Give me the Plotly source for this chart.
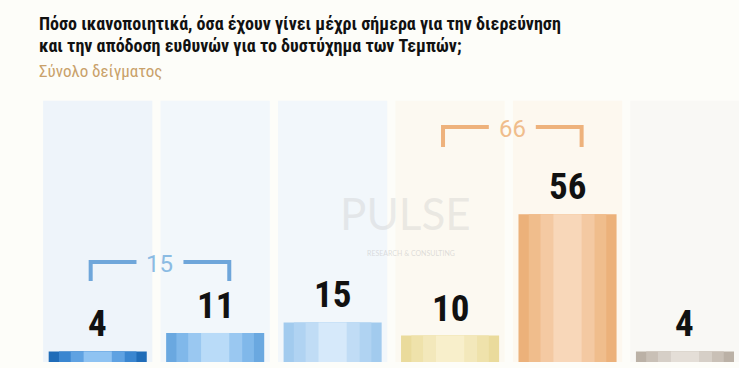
import plotly.graph_objects as go

# ---- data ----
categories = ["Πολύ ικανοποιητικά", "Αρκετά ικανοποιητικά", "Ούτε/ούτε",
              "Λίγο ικανοποιητικά", "Καθόλου ικανοποιητικά", "ΔΓ/ΔΑ"]
values = [4, 11, 15, 10, 56, 4]
# colour layers of each bar, from outer edge to inner highlight
bar_layers = [
    ["#1f6cb8", "#3a86d0", "#5fa2e2", "#8fc3f2"],
    ["#6aa8e0", "#80b8ea", "#9ac8f1", "#b9dbf8"],
    ["#a2cbee", "#b0d3f2", "#c0dcf5", "#d6e9fa"],
    ["#eadb9c", "#efe2ab", "#f3e8bb", "#f8efcb"],
    ["#ecb17a", "#f0bd8c", "#f4c9a2", "#f8d7b9"],
    ["#bbb1a6", "#c9c0b6", "#d6cfc7", "#e4ded7"],
]
layer_widths = [0.835, 0.66, 0.46, 0.24]
bg_colors = ["#eef4fa", "#f2f7fb", "#f2f7fb", "#fcf9f1", "#fdf8ef", "#f9f8f5"]
bg_level = [99] * 6
group_labels = ["15", "66"]
group_spans = [(-0.06, 1.12), (2.94, 4.12)]
group_levels = [(30.7, 37.9), (81.4, 89.0)]
group_colors = ["#6fa6da", "#eeb27c"]
group_text_colors = ["#8bbbe3", "#f0bd8c"]

title_lines = ["Πόσο ικανοποιητικά, όσα έχουν γίνει μέχρι σήμερα για την διερεύνηση",
               "και την απόδοση ευθυνών για το δυστύχημα των Τεμπών;"]
subtitle = "Σύνολο δείγματος"

W, H = 739, 368
ML, MR, MT, MB = 39, 0, 72, 6
plot_h = H - MT - MB
y_max = plot_h / 2.64
x_idx = list(range(len(categories)))

def py(pix_y):
    return (H - MB - pix_y) / plot_h

def px(pix_x):
    return (pix_x - ML) / (W - ML - MR)

narrow = "Liberation Sans Narrow, Roboto Condensed, Arial Narrow, Roboto, sans-serif"

fig = go.Figure()
fig.add_trace(go.Bar(x=x_idx, y=bg_level, width=0.93, marker=dict(color=bg_colors, line_width=0),
                     hoverinfo="skip", showlegend=False))
for li, w in enumerate(layer_widths):
    fig.add_trace(go.Bar(x=x_idx, y=values, width=w,
                         marker=dict(color=[layers[li] for layers in bar_layers], line_width=0),
                         hoverinfo="skip", showlegend=False))
fig.update_layout(barmode="overlay")

# value labels
for i, v in enumerate(values):
    fig.add_annotation(x=i, y=v, text=f"<b>{v}</b>", showarrow=False, yanchor="bottom",
                       yshift=4, font=dict(family=narrow, size=37, color="#111111"))

# group brackets
for lab, (x0, x1), (yb, yt), c, tc in zip(group_labels, group_spans, group_levels,
                                           group_colors, group_text_colors):
    xm = (x0 + x1) / 2
    gap = 0.2
    fig.add_shape(type="path", path=f"M {x0} {yb} L {x0} {yt} L {xm - gap} {yt}",
                  line=dict(color=c, width=4), xref="x", yref="y")
    fig.add_shape(type="path", path=f"M {xm + gap} {yt} L {x1} {yt} L {x1} {yb}",
                  line=dict(color=c, width=4), xref="x", yref="y")
    fig.add_annotation(x=xm, y=yt, text=lab, showarrow=False, yanchor="middle", yshift=-2,
                       font=dict(family="Roboto, sans-serif", size=24, color=tc))

# watermark
fig.add_annotation(xref="paper", yref="paper", x=px(405), y=py(213), text="PULSE",
                   showarrow=False, font=dict(family="DejaVu Sans ExtraLight, Lato, sans-serif",
                                               size=44, color="rgba(200,200,200,0.35)"))
fig.add_annotation(xref="paper", yref="paper", x=px(411), y=py(253), text="RESEARCH & CONSULTING",
                   showarrow=False, font=dict(family="Lato, sans-serif", size=7,
                                               color="rgba(190,190,190,0.5)"))

# title
for k, line in enumerate(title_lines):
    fig.add_annotation(xref="paper", yref="paper", x=px(37), y=py(24 + 22 * k), text=f"<b>{line}</b>",
                       showarrow=False, xanchor="left", yanchor="middle",
                       font=dict(family=narrow, size=18, color="#111111"))
fig.add_annotation(xref="paper", yref="paper", x=px(37), y=py(71), text=subtitle,
                   showarrow=False, xanchor="left", yanchor="middle",
                   font=dict(family=narrow, size=17, color="#c9a16a"))

fig.update_xaxes(range=[-0.5, 5.46], visible=False, fixedrange=True)
fig.update_yaxes(range=[0, y_max], visible=False, fixedrange=True)
fig.update_layout(width=W, height=H, margin=dict(l=ML, r=MR, t=MT, b=MB),
                  paper_bgcolor="#fdfdf9", plot_bgcolor="#fdfdf9", showlegend=False)

fig.write_html("out.html", config={"displayModeBar": False},
               post_script="document.body.style.margin='0';document.body.style.overflow='hidden';")
